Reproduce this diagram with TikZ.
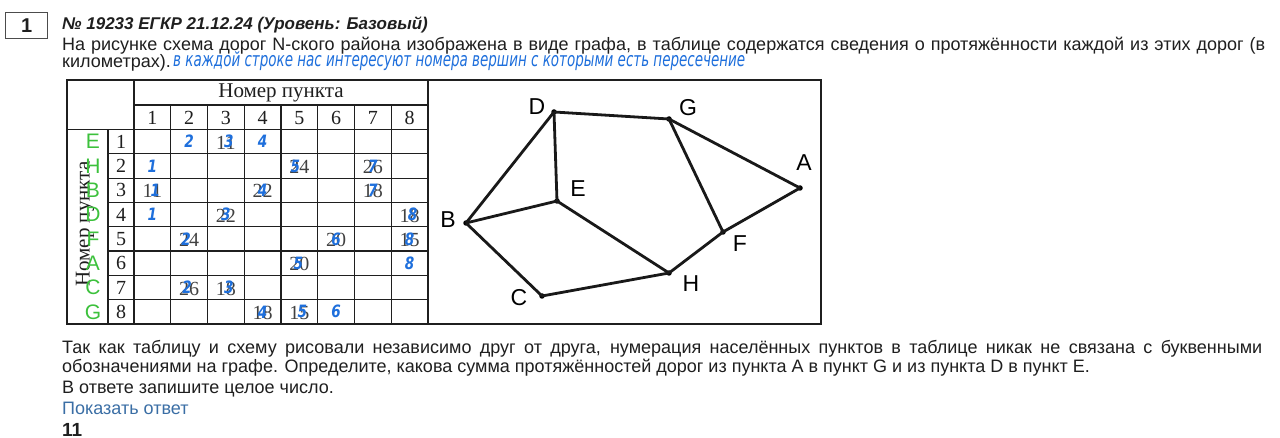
\documentclass[tikz,border=0pt]{standalone}
\usepackage{fontspec}
\setmainfont{Liberation Sans}
\newfontfamily\serif{Liberation Serif}
\newfontfamily\hand{DejaVu Sans}[FakeStretch=0.8]
\newfontfamily\gsans{Liberation Sans}
\definecolor{ink}{HTML}{1F1F1F}
\definecolor{pen}{HTML}{1E6FDC}
\definecolor{grn}{HTML}{3CC13C}
\definecolor{lnk}{HTML}{3A6EA5}
\tikzset{
  txt/.style={anchor=base west, inner sep=0pt, text=ink, font=\fontsize{18}{20}\selectfont},
  tline/.style={draw=ink, line width=1.1pt},
  cellnum/.style={inner sep=0pt, font=\serif\fontsize{20}{20}\selectfont, text=ink},
  bluenum/.style={inner sep=0pt, font=\hand\bfseries\itshape\fontsize{17}{17}\selectfont, text=pen},
  gletter/.style={inner sep=0pt, font=\gsans\fontsize{21}{21}\selectfont, text=grn},
  vdot/.style={circle, fill=black, inner sep=0pt, minimum size=5.5pt},
  vlabel/.style={inner sep=0pt, font=\gsans\fontsize{23}{23}\selectfont, text=black},
  edge/.style={draw=black!90, line width=2.8pt}
}
\begin{document}
\begin{tikzpicture}[x=1pt,y=-1pt]
\useasboundingbox[fill=white] (0,0) rectangle (1280,438);
% task number box
\node[draw=ink!80, line width=1.3pt, minimum width=42pt, minimum height=26pt, inner sep=0pt, anchor=north west,
      font=\bfseries\fontsize{20}{20}\selectfont, text=ink] (numbox) at (5,12) {1};
% title and statement
\node[txt, font=\bfseries\itshape\fontsize{17}{18}\selectfont] (title) at (62,30) {№ 19233 ЕГКР 21.12.24 (Уровень: Базовый)};
\node[txt] (l1) at (62,51) {\makebox[1203pt][s]{На рисунке схема дорог N-ского района изображена в виде графа, в таблице содержатся сведения о протяжённости каждой из этих дорог (в}};
\node[txt] (l2) at (62,68) {километрах).};
\node[anchor=base west, inner sep=0pt, text=pen] (hw) at (173,67) {\resizebox{572pt}{15pt}{\hand\itshape\fontsize{13}{13}\selectfont в каждой строке нас интересуют номера вершин с которыми есть пересечение}};

% ---------- table ----------
\draw[tline] (67,80) rectangle (428,324);
\draw[tline] (134,105) -- (428,105);
\draw[tline] (67,129.5) -- (428,129.5);
\draw[tline] (134,80) -- (134,324);
\draw[tline] (108,129.5) -- (108,324);
\foreach \j in {1,...,7} { \draw[tline] ({134+36.75*\j},105) -- ({134+36.75*\j},324); }
\foreach \i in {1,...,7} { \draw[tline] (108,{129.5+24.31*\i}) -- (428,{129.5+24.31*\i}); }
\node[cellnum, font=\serif\fontsize{21}{21}\selectfont] (hdr) at (281,93) {Номер пункта};
\foreach \j in {1,...,8} {
  \node[cellnum] (c\j) at ({134+36.75*(\j-0.5)},118) {\j};
  \node[cellnum] (r\j) at (121,{129.5+24.31*(\j-0.5)}) {\j};
}
\node[cellnum, rotate=90, font=\serif\fontsize{21}{21}\selectfont] (vhdr) at (85,224) {Номер пункта};
% green letters
\foreach \l [count=\i] in {E,H,B,D,F,A,C,G} {
  \node[gletter] (g\i) at (93,{129.5+24.31*(\i-0.5)}) {\l};
}
% printed values (row, col, value)
\foreach \r/\c/\v in {1/3/11,2/5/24,2/7/26,3/1/11,3/4/22,3/7/18,4/3/22,4/8/18,5/2/24,5/6/20,5/8/15,6/5/20,7/2/26,7/3/18,8/4/18,8/5/15} {
  \node[cellnum, text=ink!85] (p\r\c) at ({134+36.75*(\c-0.5)},{129.5+24.31*(\r-0.5)+1}) {\v};
}
% blue handwritten overlays (row, col, digit, x offset)
\foreach \r/\c/\d/\o in {1/2/2/0,1/3/3/3,1/4/4/0,2/1/1/0,2/5/5/-4,2/7/7/0,3/1/1/3,3/4/4/0,3/7/7/0,4/1/1/0,4/3/3/0,4/8/8/3,5/2/2/-3,5/6/6/0,5/8/8/0,6/5/5/-1,6/8/8/0,7/2/2/-2,7/3/3/3,8/4/4/0,8/5/5/3,8/6/6/0} {
  \node[bluenum] (b\r\c) at ({134+36.75*(\c-0.5)+\o},{129.5+24.31*(\r-0.5)}) {\d};
}

% ---------- graph ----------
\draw[tline] (428,80) rectangle (821,324);
\node[vdot] (D) at (554,112) {};
\node[vdot] (G) at (669,119) {};
\node[vdot] (A) at (800,188) {};
\node[vdot] (E) at (557,201) {};
\node[vdot] (B) at (466,223) {};
\node[vdot] (F) at (723,232) {};
\node[vdot] (H) at (669,273) {};
\node[vdot] (C) at (542,296) {};
\draw[edge] (D.center) -- (G.center);
\draw[edge] (D.center) -- (B.center);
\draw[edge] (D.center) -- (E.center);
\draw[edge] (G.center) -- (A.center);
\draw[edge] (G.center) -- (F.center);
\draw[edge] (A.center) -- (F.center);
\draw[edge] (B.center) -- (E.center);
\draw[edge] (B.center) -- (C.center);
\draw[edge] (E.center) -- (H.center);
\draw[edge] (H.center) -- (F.center);
\draw[edge] (C.center) -- (H.center);
\node[vlabel] (lD) at (537,107) {D};
\node[vlabel] (lG) at (688,108) {G};
\node[vlabel] (lA) at (804,163) {A};
\node[vlabel] (lE) at (578,189) {E};
\node[vlabel] (lB) at (448,220) {B};
\node[vlabel] (lF) at (740,244) {F};
\node[vlabel] (lH) at (691,284) {H};
\node[vlabel] (lC) at (519,298) {C};

% ---------- bottom text ----------
\node[txt] (b1) at (62,353) {\makebox[1200pt][s]{Так как таблицу и схему рисовали независимо друг от друга, нумерация населённых пунктов в таблице никак не связана с буквенными}};
\node[txt] (b2) at (62,373) {обозначениями на графе. Определите, какова сумма протяжённостей дорог из пункта A в пункт G и из пункта D в пункт E.};
\node[txt] (b3) at (62,393) {В ответе запишите целое число.};
\node[txt, text=lnk] (show) at (62,414) {Показать ответ};
\node[txt, font=\bfseries\fontsize{19}{20}\selectfont] (ans) at (62,436) {11};
\end{tikzpicture}
\end{document}
